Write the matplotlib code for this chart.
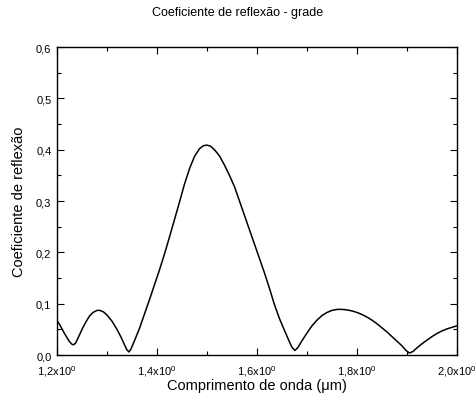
import matplotlib.pyplot as plt
from matplotlib.ticker import MultipleLocator, FixedLocator

plt.rcParams['font.family'] = ['Liberation Sans', 'DejaVu Sans']
plt.rcParams['mathtext.fontset'] = 'custom'
plt.rcParams['mathtext.rm'] = 'Liberation Sans'
plt.rcParams['mathtext.it'] = 'Liberation Sans'

# comprimento de onda (um) e coeficiente de reflexao da grade
wavelength = [1.200, 1.205, 1.210, 1.215, 1.220, 1.225, 1.230, 1.233, 1.237,
              1.242, 1.250, 1.258, 1.265, 1.272, 1.280, 1.286, 1.293, 1.300,
              1.310, 1.320, 1.328, 1.335, 1.340, 1.344, 1.348, 1.355, 1.365,
              1.375, 1.385, 1.395, 1.405, 1.415, 1.425, 1.435, 1.445, 1.455,
              1.465, 1.475, 1.485, 1.493, 1.500, 1.507, 1.515, 1.525, 1.535,
              1.545, 1.555, 1.565, 1.575, 1.585, 1.595, 1.605, 1.615, 1.625,
              1.635, 1.645, 1.655, 1.663, 1.670, 1.676, 1.682, 1.690, 1.700,
              1.710, 1.720, 1.730, 1.740, 1.750, 1.760, 1.770, 1.780, 1.790,
              1.800, 1.810, 1.820, 1.830, 1.840, 1.850, 1.860, 1.870, 1.880,
              1.890, 1.898, 1.905, 1.912, 1.920, 1.930, 1.940, 1.950, 1.960,
              1.970, 1.980, 1.990, 2.000]
reflection = [0.067, 0.060, 0.051, 0.042, 0.034, 0.026, 0.021, 0.020, 0.023,
              0.033, 0.050, 0.065, 0.076, 0.083, 0.087, 0.087, 0.084, 0.078,
              0.066, 0.050, 0.035, 0.020, 0.010, 0.006, 0.012, 0.028, 0.052,
              0.080, 0.108, 0.137, 0.166, 0.197, 0.230, 0.264, 0.298, 0.333,
              0.363, 0.387, 0.402, 0.408, 0.409, 0.407, 0.400, 0.388, 0.370,
              0.350, 0.328, 0.300, 0.272, 0.244, 0.216, 0.188, 0.160, 0.130,
              0.098, 0.071, 0.048, 0.030, 0.015, 0.009, 0.015, 0.028, 0.043,
              0.057, 0.068, 0.077, 0.083, 0.087, 0.089, 0.089, 0.088, 0.086,
              0.083, 0.079, 0.074, 0.068, 0.061, 0.053, 0.045, 0.036, 0.027,
              0.018, 0.009, 0.004, 0.007, 0.014, 0.022, 0.029, 0.036, 0.042,
              0.047, 0.051, 0.054, 0.057]

xticks = [1.2, 1.4, 1.6, 1.8, 2.0]
xticklabels = [r'1,2x10$^{0}$', r'1,4x10$^{0}$', r'1,6x10$^{0}$',
               r'1,8x10$^{0}$', r'2,0x10$^{0}$']
yticks = [0.0, 0.1, 0.2, 0.3, 0.4, 0.5, 0.6]
yticklabels = ['0,0', '0,1', '0,2', '0,3', '0,4', '0,5', '0,6']

fig = plt.figure(figsize=(4.77, 4.06), dpi=100)
ax = fig.add_axes([0.1195, 0.123, 0.8385, 0.7586])

ax.plot(wavelength, reflection, color='black', linewidth=1.1)

ax.set_xlim(1.2, 2.0)
ax.set_ylim(0.0, 0.6)
ax.xaxis.set_major_locator(FixedLocator(xticks))
ax.set_xticklabels(xticklabels)
ax.yaxis.set_major_locator(FixedLocator(yticks))
ax.set_yticklabels(yticklabels)
ax.xaxis.set_minor_locator(MultipleLocator(0.1))
ax.yaxis.set_minor_locator(MultipleLocator(0.05))

ax.tick_params(which='both', direction='in', top=True, right=True,
               labelsize=8, width=0.8)
ax.tick_params(which='major', length=5)
ax.tick_params(which='minor', length=3)
ax.tick_params(axis='x', which='major', pad=6)
ax.tick_params(axis='y', which='major', pad=4)
for sp in ax.spines.values():
    sp.set_linewidth(1.0)

ax.set_xlabel('Comprimento de onda (μm)', fontsize=10.5, labelpad=0)
ax.set_ylabel('Coeficiente de reflexão', fontsize=10.5, labelpad=7)
fig.text(0.497, 0.968, 'Coeficiente de reflexão - grade',
         ha='center', va='center', fontsize=9)

fig.savefig('out.png', dpi=100)
